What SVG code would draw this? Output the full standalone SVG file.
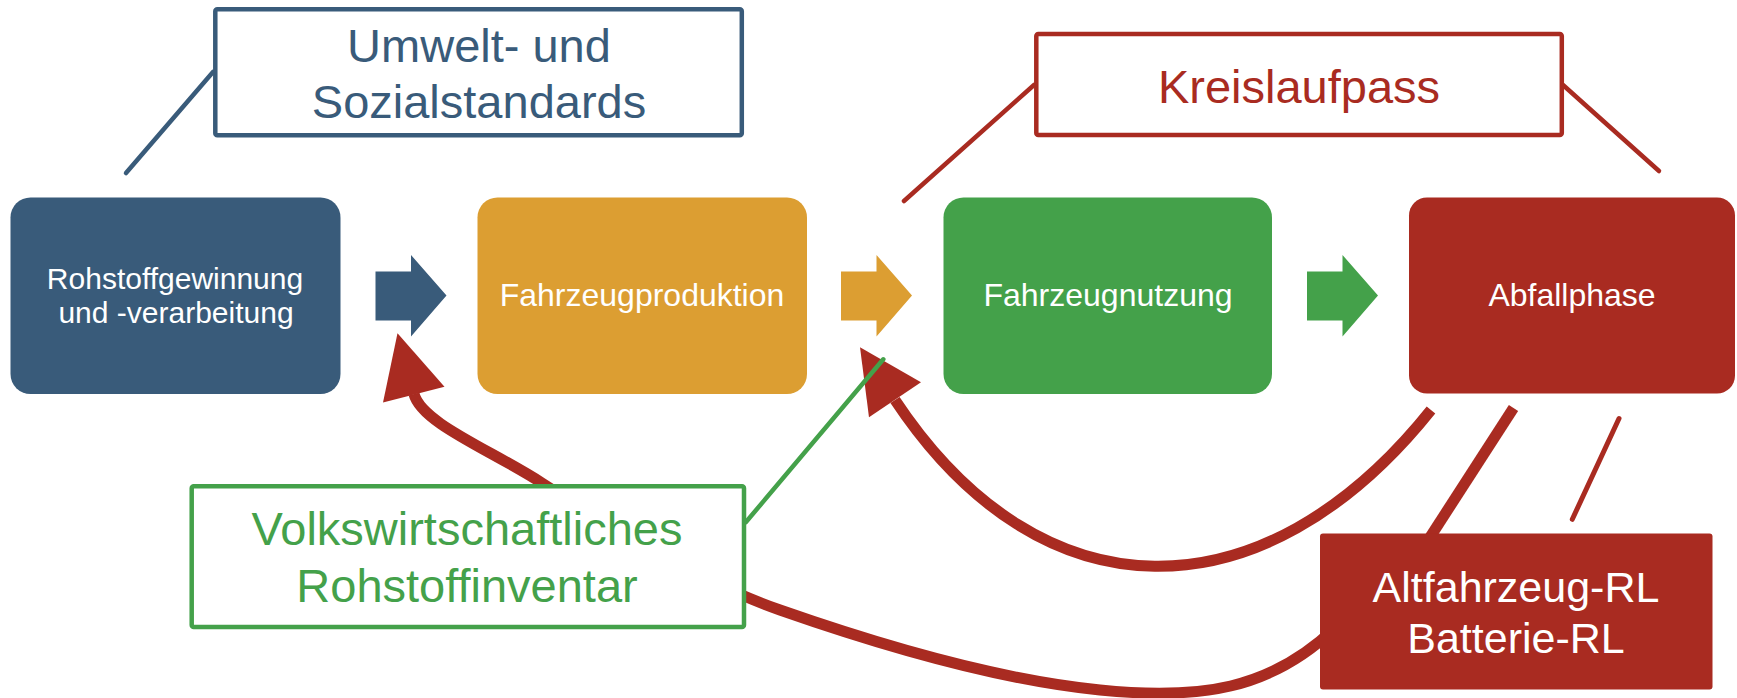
<svg xmlns="http://www.w3.org/2000/svg" xmlns:xlink="http://www.w3.org/1999/xlink" width="1737" height="698" viewBox="0 0 1737 698">
  <style>
    .node-text { font-family: "Liberation Sans", Arial, sans-serif; font-size: 32px; fill: #ffffff; text-anchor: middle; }
    .label-text { font-family: "Liberation Sans", Arial, sans-serif; font-size: 47px; text-anchor: middle; }
    .callout { fill: #ffffff; stroke-width: 4.5; }
    .thin { fill: none; stroke-width: 4.5; stroke-linecap: round; }
    .flow { fill: none; stroke: #a92b21; stroke-width: 11; stroke-linecap: butt; }
    .blue { fill: #395b7a; }
    .orange { fill: #dc9e32; }
    .green { fill: #44a14a; }
    .red { fill: #a92b21; }
  </style>
  <defs>
    <path id="blockArrow" d="M0 16.5 H35.5 V0 L71 40.5 L35.5 81.5 V65.5 H0 Z"/>
  </defs>
  <rect width="1737" height="698" fill="#ffffff"/>

  <g id="connectors">
    <!-- block flow arrows -->
    <use xlink:href="#blockArrow" href="#blockArrow" x="375.5" y="255" class="blue"/>
    <use xlink:href="#blockArrow" href="#blockArrow" x="841" y="255" class="orange"/>
    <use xlink:href="#blockArrow" href="#blockArrow" x="1307" y="255" class="green"/>
    <!-- callout lines -->
    <line class="thin" x1="213" y1="72" x2="126" y2="173" stroke="#395b7a"/>
    <line class="thin" x1="1034" y1="85" x2="904" y2="201" stroke="#a92b21"/>
    <line class="thin" x1="1563" y1="85" x2="1659" y2="171" stroke="#a92b21"/>
    <!-- return flows -->
    <path class="flow" d="M1431 410 C1263 620 1041 620 895 400"/>
    <polygon class="red" points="860,347.3 921,382.3 869,417.3"/>
    <path class="flow" d="M1335 628 C1270 690 1200 700 1100 690 C1000 680 880 645 780 610 C700 582 610 527 542 483 C491 450 421.5 423 414 394"/>
    <polygon class="red" points="397.5,333.3 383,402.5 444.5,386.7"/>
    <line x1="1513.5" y1="408" x2="1425" y2="545" stroke="#a92b21" stroke-width="11"/>
    <line x1="1619" y1="418.5" x2="1572.3" y2="519.3" stroke="#a92b21" stroke-width="5" stroke-linecap="round"/>
    <line class="thin" x1="746" y1="522" x2="883.3" y2="359.3" stroke="#44a14a"/>
  </g>

  <g id="node-rohstoff">
    <rect x="10.5" y="197.5" width="330" height="196.5" rx="20" class="blue"/>
    <text class="node-text" x="175" y="288.5" style="font-size:30px">Rohstoffgewinnung</text>
    <text class="node-text" x="176" y="322.5" style="font-size:30px">und -verarbeitung</text>
  </g>
  <g id="node-produktion">
    <rect x="477.5" y="197.5" width="329.5" height="196.5" rx="20" class="orange"/>
    <text class="node-text" x="642" y="306">Fahrzeugproduktion</text>
  </g>
  <g id="node-nutzung">
    <rect x="943.5" y="197.5" width="328.5" height="196.5" rx="20" class="green"/>
    <text class="node-text" x="1108" y="306">Fahrzeugnutzung</text>
  </g>
  <g id="node-abfall">
    <rect x="1409" y="197.5" width="326" height="196" rx="18" class="red"/>
    <text class="node-text" x="1572" y="306">Abfallphase</text>
  </g>

  <g id="label-umwelt">
    <rect x="215.3" y="9.3" width="526.5" height="126" rx="2" class="callout" stroke="#395b7a"/>
    <text class="label-text" x="479" y="62" fill="#395b7a">Umwelt- und</text>
    <text class="label-text" x="479" y="118.3" fill="#395b7a">Sozialstandards</text>
  </g>
  <g id="label-kreislauf">
    <rect x="1036.3" y="34" width="525.5" height="101" rx="2" class="callout" stroke="#a92b21"/>
    <text class="label-text" x="1299" y="103" fill="#a92b21">Kreislaufpass</text>
  </g>
  <g id="label-inventar">
    <rect x="191.7" y="486.3" width="552.3" height="140.7" rx="2" class="callout" stroke="#44a14a"/>
    <text class="label-text" x="467" y="545" fill="#44a14a">Volkswirtschaftliches</text>
    <text class="label-text" x="467" y="601.7" fill="#44a14a">Rohstoffinventar</text>
  </g>
  <g id="label-richtlinien">
    <rect x="1320" y="533.5" width="392.5" height="156" rx="3" class="red"/>
    <text class="label-text" x="1516" y="601.7" fill="#ffffff" style="font-size:43px">Altfahrzeug-RL</text>
    <text class="label-text" x="1516" y="652.7" fill="#ffffff" style="font-size:43px">Batterie-RL</text>
  </g>
</svg>
